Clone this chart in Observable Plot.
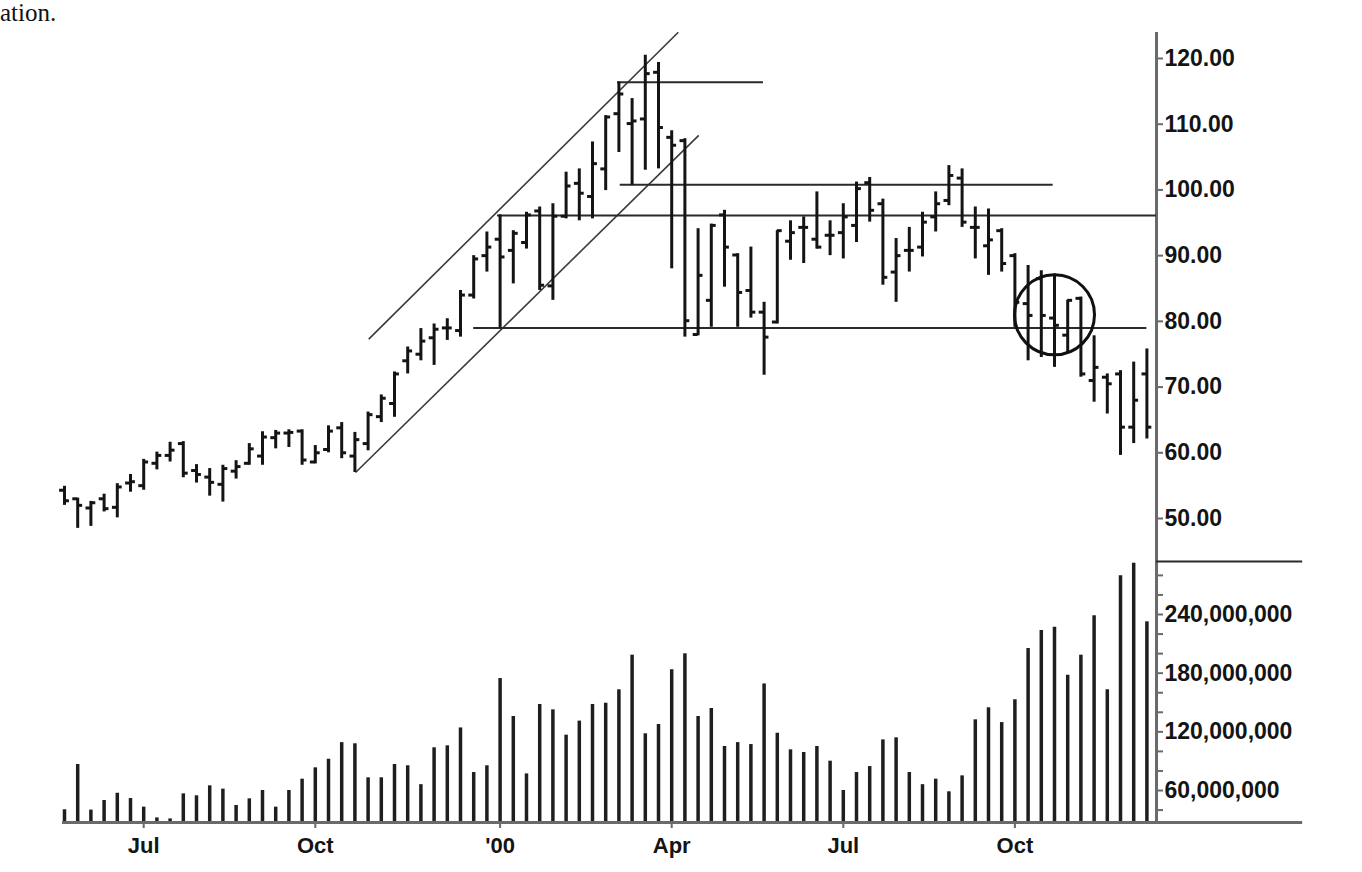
<!DOCTYPE html>
<html><head><meta charset="utf-8">
<script src="https://cdn.jsdelivr.net/npm/d3@7"></script>
<script src="https://cdn.jsdelivr.net/npm/@observablehq/plot@0.6"></script>
<style>
html,body{margin:0;padding:0;background:#fff;}
#wrap{position:relative;width:1362px;height:872px;overflow:hidden;background:#fff;}
#cap{position:absolute;left:0;top:0;font:25px/25px "Liberation Serif","Times New Roman",serif;color:#111;}
#price{position:absolute;left:0;top:30px;}
#vol{position:absolute;left:0;top:555px;}
</style></head><body>
<div id="wrap"><div id="cap">ation.</div><div id="price"></div><div id="vol"></div></div>
<script>
// ---- data ----
const firstWeek = "1999-05-21"; // first weekly bar (week ending Friday)
const opens = [54.3,53.0,51.6,53.0,51.7,55.4,55.0,58.4,59.6,61.4,
  57.3,56.3,55.2,57.2,58.4,59.5,62.3,63.0,63.3,58.6,
  60.5,63.8,59.5,61.4,65.5,67.5,74.0,75.0,77.5,79.0,
  78.6,84.0,90.0,92.5,90.8,92.0,96.8,85.4,96.0,101.0,
  99.0,103.2,111.6,110.1,110.8,117.9,108.0,107.5,78.0,83.2,
  96.2,90.1,84.7,81.4,79.9,92.2,94.3,92.5,93.1,93.5,
  94.6,101.1,97.9,87.5,90.8,91.3,95.9,98.4,101.8,94.3,
  91.5,93.8,90.0,82.7,86.5,80.5,77.9,83.5,71.0,71.5,
  72.0,63.9,72.0];
const highs = [54.9,53.1,52.6,53.7,55.3,56.7,59.0,60.1,61.6,61.7,
  58.2,57.6,58.1,58.8,61.4,63.2,63.4,63.5,63.5,61.1,
  64.1,64.6,63.1,66.2,68.8,72.3,76.1,78.9,79.6,80.4,
  84.7,90.0,93.6,96.2,93.8,96.6,97.4,97.9,102.7,103.2,
  107.3,111.3,116.4,113.9,120.5,119.4,109.0,107.8,94.1,94.8,
  96.9,90.3,91.3,82.9,93.8,95.3,95.9,99.7,95.3,97.9,
  101.2,101.9,98.6,92.6,94.3,96.6,99.7,103.7,103.2,97.4,
  97.1,94.1,90.3,88.5,87.7,87.2,83.2,83.7,77.8,72.0,
  72.5,73.8,75.8];
const lows = [52.0,48.5,48.8,51.0,50.1,54.0,54.3,57.4,58.6,56.2,
  55.4,53.4,52.5,56.0,58.1,58.1,60.6,60.8,58.1,58.3,
  60.0,59.1,57.0,60.3,64.6,65.4,72.0,74.0,73.3,77.1,
  77.6,83.4,87.5,79.0,85.7,91.0,84.7,83.2,95.6,95.3,
  95.6,99.9,105.7,100.7,103.0,103.2,88.0,77.6,77.8,79.1,
  85.2,79.1,80.5,71.8,79.6,89.3,88.8,91.0,90.0,89.5,
  92.0,95.1,85.5,82.9,87.5,89.8,93.6,97.6,94.3,89.5,
  87.0,87.5,79.1,74.0,74.5,73.0,75.1,71.5,67.7,65.9,
  59.6,61.4,62.1];
const closes = [52.7,52.0,52.4,51.5,54.8,55.6,58.6,59.6,60.4,56.9,
  56.7,55.5,57.6,57.9,60.6,62.4,63.0,63.1,58.9,60.0,
  63.3,60.0,62.0,65.8,68.3,72.0,75.5,77.0,78.8,79.0,
  84.0,89.5,91.3,89.8,93.4,96.2,85.5,96.0,100.6,99.5,
  104.0,111.1,114.6,110.5,117.7,109.5,106.8,80.1,87.0,94.6,
  91.3,84.4,81.4,77.6,93.8,93.5,94.3,91.3,93.1,95.9,
  100.2,96.9,86.7,90.0,90.8,95.1,97.9,102.2,95.1,94.3,
  92.4,88.8,82.9,80.9,80.9,79.4,83.2,72.0,73.0,70.5,
  63.9,68.0,63.9];
const volumesM = [40.3,86.6,40,49.8,57.2,51.8,43,32,31,56.6,
  54.6,64.8,61.4,44.7,51.5,60,43,60,71.6,83.2,
  92,109,107.8,73,73,86.6,85.3,66,103.7,105.7,
  124,78.4,85.3,174.5,135.7,77,148,142.5,116.6,131,
  148,149.3,163,198.4,118,127.5,183.4,199.8,135.7,143.9,
  105,109,107,169,118.6,101.6,98.9,105,90,60,
  78.4,84.5,111.8,113.9,78.4,66,71.6,58.7,75,132.3,
  144.6,129.5,152.8,205.2,223.6,227,178,198.4,238.7,163,
  279.6,292.5,232.5];
const tickDates = ["1999-07-02","1999-10-01","2000-01-07","2000-04-07","2000-07-07","2000-10-06"];
const tickLabels = ["Jul","Oct","'00","Apr","Jul","Oct"];
const priceTicks = [50,60,70,80,90,100,110,120];
const volumeTicks = [60e6,120e6,180e6,240e6];
const volumeMinorTicks = [40e6,80e6,100e6,140e6,160e6,200e6,220e6,260e6,280e6];
// annotations, positioned by bar index and price
const channelLines = [
  {i1:23.05, p1:77.3, i2:46.5, p2:124.0},
  {i1:22.05, p1:57.0, i2:48.05, p2:108.3}
];
const levelLines = [
  {price:116.4, i1:41.9, i2:52.95},
  {price:100.8, i1:42.1, i2:74.9},
  {price:96.1, i1:32.8, i2:82.73},
  {price:79.0, i1:31.0, i2:82.0}
];
const circled = [{i:75.0, price:81.0}];

// ---- build ----
const DAY = 864e5;
const t0 = new Date(firstWeek + "T00:00:00Z").getTime();
const at = i => new Date(t0 + i * 7 * DAY);
const bars = opens.map((o, i) => ({date: at(i), open: o, high: highs[i], low: lows[i], close: closes[i], volume: volumesM[i] * 1e6}));
const tickD = 2.6 * DAY;
const labelMap = new Map(tickDates.map((d, i) => [new Date(d + "T00:00:00Z").getTime(), tickLabels[i]]));
const tickDateObjs = tickDates.map(d => new Date(d + "T00:00:00Z"));

const xScale = {type: "utc", domain: [at(0), at(82)], range: [64, 1146.4], axis: null};
const font = "'Liberation Sans', Arial, Helvetica, sans-serif";
const ink = "#141414";

const price = Plot.plot({
  width: 1362, height: 531,
  marginTop: 3, marginBottom: 0, marginLeft: 0, marginRight: 206,
  style: {background: "transparent", fontFamily: font, overflow: "visible"},
  x: xScale,
  y: {domain: [50, 120], range: [488, 28], axis: null},
  marks: [
    Plot.frame({anchor: "right", stroke: "#6a6a6a", strokeWidth: 3}),
    Plot.axisY(priceTicks, {anchor: "right", label: null, tickSize: 6, tickPadding: 2, stroke: "#6a6a6a", strokeWidth: 2,
      fill: ink, fontSize: 23, fontWeight: "bold", tickFormat: d3.format(".2f")}),
    Plot.link(channelLines, {x1: d => at(d.i1), y1: "p1", x2: d => at(d.i2), y2: "p2", stroke: "#3a3a3a", strokeWidth: 1.6}),
    Plot.ruleY(levelLines, {y: "price", x1: d => at(d.i1), x2: d => at(d.i2), stroke: "#2a2a2a", strokeWidth: 2}),
    Plot.ruleX(bars, {x: "date", y1: "low", y2: "high", stroke: ink, strokeWidth: 3}),
    Plot.ruleY(bars, {y: "open", x1: d => new Date(+d.date - tickD), x2: "date", stroke: ink, strokeWidth: 3}),
    Plot.ruleY(bars, {y: "close", x1: "date", x2: d => new Date(+d.date + tickD), stroke: ink, strokeWidth: 3}),
    Plot.dot(circled, {x: d => at(d.i), y: "price", r: 40, stroke: "#111", strokeWidth: 3, fill: "none"})
  ]
});
document.getElementById("price").append(price);

const volBase = 27.3e6;
const vol = Plot.plot({
  width: 1362, height: 317,
  marginTop: 0, marginBottom: 50, marginLeft: 0, marginRight: 206,
  style: {background: "transparent", fontFamily: font, overflow: "visible"},
  x: xScale,
  y: {domain: [volBase, 294.2e6], range: [267, 6], axis: null, label: null},
  marks: [
    Plot.frame({anchor: "right", stroke: "#6a6a6a", strokeWidth: 3}),
    Plot.ruleY([294.2e6], {x1: at(82.73), x2: at(93.8), stroke: "#2a2a2a", strokeWidth: 2}),
    Plot.ruleX(bars, {x: "date", y1: volBase, y2: "volume", stroke: "#1e1e1e", strokeWidth: 3.5}),
    Plot.ruleY([volBase], {x1: at(-0.15), x2: at(93.8), stroke: "#6a6a6a", strokeWidth: 3}),
    Plot.axisY(volumeMinorTicks, {anchor: "right", label: null, tickSize: 6, stroke: "#6a6a6a", strokeWidth: 2, tickFormat: () => ""}),
    Plot.axisY(volumeTicks, {anchor: "right", label: null, tickSize: 6, tickPadding: 2, stroke: "#6a6a6a", strokeWidth: 2,
      fill: ink, fontSize: 23, fontWeight: "bold", tickFormat: d3.format(",")}),
    Plot.axisX(tickDateObjs, {anchor: "bottom", label: null, tickSize: 6, tickPadding: 9, stroke: "#6a6a6a", strokeWidth: 2,
      fill: ink, fontSize: 22, fontWeight: "bold", tickFormat: d => labelMap.get(+d)})
  ]
});
document.getElementById("vol").append(vol);
</script>
</body></html>
